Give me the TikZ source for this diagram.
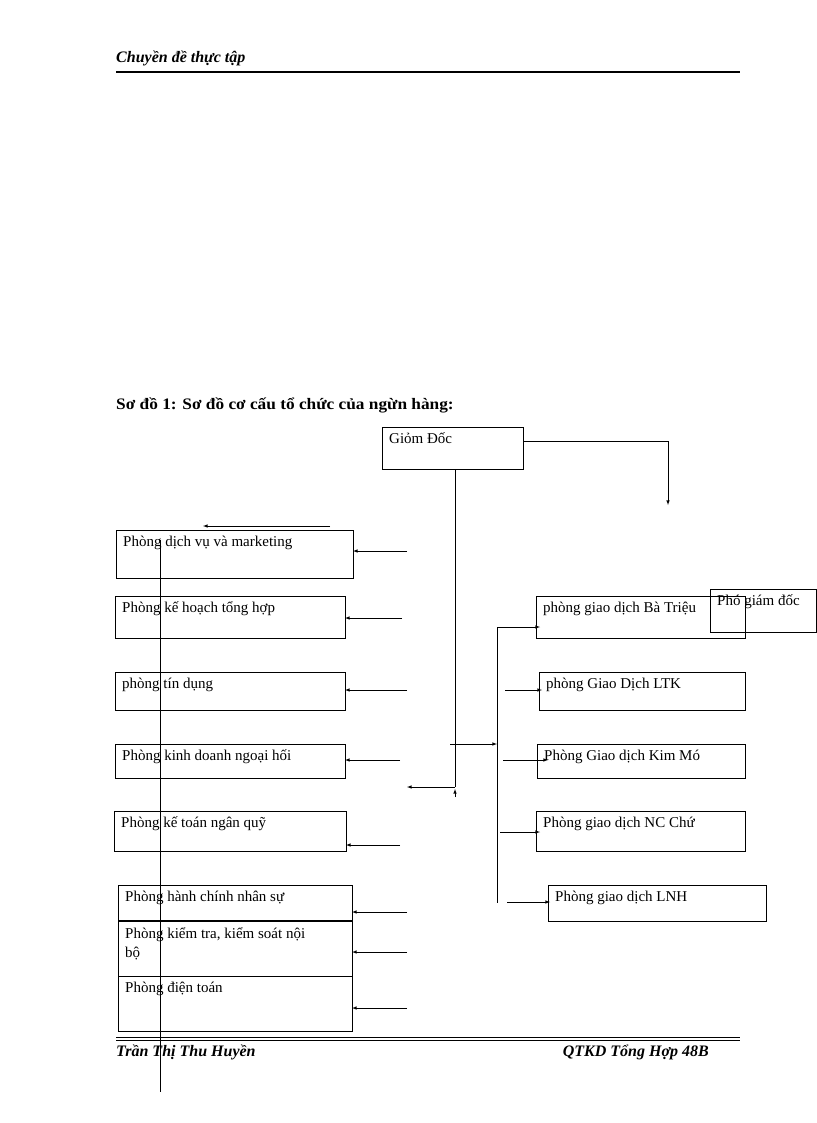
\documentclass[tikz,border=0pt]{standalone}
\usepackage{fontspec}
\setmainfont{Liberation Serif}
\begin{document}
\begin{tikzpicture}[x=1pt,y=-1pt,
 bx/.style={draw,line width=0.6pt,inner sep=0pt},
 lb/.style={anchor=base west,inner sep=0pt,font=\fontsize{15}{19}\selectfont},
 ar/.style={-latex,line width=0.6pt},
 ln/.style={line width=0.6pt}]
\useasboundingbox (0,0) rectangle (816,1123);
\node[anchor=base west,inner sep=0pt,font=\bfseries\itshape\fontsize{16}{18}\selectfont] (hd) at (116,63) {Chuyền đề thực tập};
\draw[line width=1.2pt] (116,72) -- (740,72);
\node[anchor=base west,inner sep=0pt,font=\bfseries\fontsize{16}{18}\selectfont,xscale=1.08] (tt) at (116,409) {Sơ đồ 1: Sơ đồ cơ cấu tổ chức của ngừn hàng:};
% boxes
\newcommand{\bxx}[6]{\draw[bx] (#2,#3) rectangle (#4,#5); \coordinate (#1) at (#2,#3); \node[lb] at (#2+7,#3+16) {#6};}
\bxx{gd}{382}{427}{523}{469}{Giỏm Đốc}
\bxx{dv}{116}{530}{353}{578}{Phòng dịch vụ và marketing}
\bxx{kh}{115}{596}{345}{638}{Phòng kế hoạch tổng hợp}
\bxx{td}{115}{672}{345}{710}{phòng tín dụng}
\bxx{nh}{115}{744}{345}{778}{Phòng kinh doanh ngoại hối}
\bxx{kt}{114}{811}{346}{851}{Phòng kế toán ngân quỹ}
\bxx{hc}{118}{885}{352}{921}{Phòng hành chính nhân sự}
\draw[line width=1.5pt] (118,921) -- (352,921);
\draw[bx] (118,921) rectangle (352,976);
\node[lb] (ks) at (125,938) {Phòng kiểm tra, kiểm soát nội};
\node[lb] (ks2) at (125,957) {bộ};
\bxx{dt}{118}{976}{352}{1031}{Phòng điện toán}
\bxx{bt}{536}{596}{745}{638}{phòng giao dịch Bà Triệu}
\draw[bx] (710,589) rectangle (816,632); \node[lb] (pg) at (717,605) {Phó giám đốc};
\bxx{ltk}{539}{672}{745}{710}{phòng Giao Dịch LTK}
\bxx{km}{537}{744}{745}{778}{Phòng Giao dịch Kim Mó}
\bxx{nc}{536}{811}{745}{851}{Phòng giao dịch NC Chứ}
\bxx{lnh}{548}{885}{766}{921}{Phòng giao dịch LNH}
% connectors
\coordinate (c1) at (668,441); \coordinate (c2) at (668,505);
\draw[ar] (523,441) -- (c1) -- (c2);
\draw[ln] (455,469) -- (455,787);
\draw[ar] (455,787) -- (407,787);
\draw[-latex,line width=0.6pt] (455,797) -- (455,789);
\draw[ar] (330,526) -- (203,526);
\foreach \y/\xs/\xe in {551/407/353,618/402/345,690/407/345,760/400/345,845/400/346,912/407/352,952/407/352,1008/407/352}
  \draw[ar] (\xs,\y) -- (\xe,\y);
\draw[ln] (160,540) -- (160,1092);
\draw[ln] (497,627) -- (497,903);
\draw[ar] (450,744) -- (497,744);
\foreach \y/\xs/\xe in {627/497/540,690/505/542,760/503/548,832/500/540,902/507/550}
  \draw[ar] (\xs,\y) -- (\xe,\y);
% footer
\draw[line width=0.6pt] (116,1037) -- (740,1037);
\draw[line width=0.6pt] (116,1040) -- (740,1040);
\node[anchor=base west,inner sep=0pt,font=\bfseries\itshape\fontsize{16}{18}\selectfont] (f1) at (116,1056) {Trần Thị Thu Huyền};
\node[anchor=base east,inner sep=0pt,font=\bfseries\itshape\fontsize{16}{18}\selectfont] (f2) at (709,1056) {QTKD Tổng Hợp 48B};
\end{tikzpicture}
\end{document}
